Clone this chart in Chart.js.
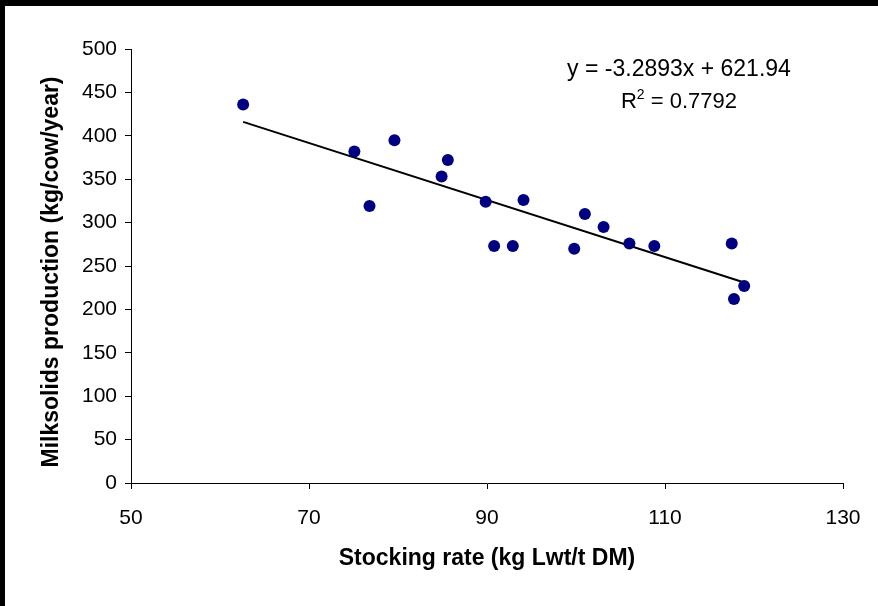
<!DOCTYPE html>
<html>
<head>
<meta charset="utf-8">
<script src="https://cdn.jsdelivr.net/npm/chart.js@4/dist/chart.umd.min.js"></script>
<style>
    body { margin:0; background:#fff; }
    #wrap { position:absolute; left:0; top:0; width:878px; height:606px; }
    .edge { position:absolute; background:#000; }
</style>
</head>
<body>
<div id="wrap"><canvas id="myChart" width="878" height="606"></canvas></div>
<div class="edge" style="left:0;top:0;width:878px;height:6px"></div>
<div class="edge" style="left:0;top:0;width:5px;height:606px"></div>
<script>
// values
const stockingRate = [62.6, 75.1, 76.8, 79.6, 84.9, 85.6, 89.85, 90.8, 92.9, 94.1, 99.8, 101.0, 103.1, 106.0, 108.8, 117.5, 117.75, 118.9];
const milksolids   = [436, 382, 319, 395, 353, 372, 324, 273, 273, 326, 270, 310, 295, 276, 273, 276, 212, 227];
const trendX = [62.6, 118.9];
const trendY = [416, 231];
const xTicks = [50, 70, 90, 110, 130];
const yTicks = [0, 50, 100, 150, 200, 250, 300, 350, 400, 450, 500];
const eqText = "y = -3.2893x + 621.94";
const r2Value = "0.7792";
const xTitle = "Stocking rate (kg Lwt/t DM)";
const yTitle = "Milksolids production (kg/cow/year)";

const pts = stockingRate.map(function(x,i){ return {x:x, y:milksolids[i]}; });
const trend = trendX.map(function(x,i){ return {x:x, y:trendY[i]}; });

const labelsPlugin = {
    id:'labels',
    afterDraw:function(chart){
        const c = chart.ctx;
        const a = chart.chartArea;
        c.save();
        c.fillStyle = '#000';
        c.textAlign = 'center';
        c.textBaseline = 'middle';
        c.font = '23px "Liberation Sans", Arial, sans-serif';
        c.fillText(eqText, 679, 70);
        // R squared with superscript
        const left = "R", rest = " = " + r2Value;
        c.font = '22px "Liberation Sans", Arial, sans-serif';
        const wL = c.measureText(left).width;
        const wR = c.measureText(rest).width;
        c.font = '14px "Liberation Sans", Arial, sans-serif';
        const wS = c.measureText("2").width;
        let sx = 679 - (wL + wS + wR) / 2;
        c.textAlign = 'left';
        c.font = '22px "Liberation Sans", Arial, sans-serif';
        c.fillText(left, sx, 102);
        c.font = '14px "Liberation Sans", Arial, sans-serif';
        c.fillText("2", sx + wL, 95);
        c.font = '22px "Liberation Sans", Arial, sans-serif';
        c.fillText(rest, sx + wL + wS, 102);

        c.textAlign = 'center';
        c.font = 'bold 23px "Liberation Sans", Arial, sans-serif';
        c.fillText(xTitle, (a.left + a.right) / 2, 559);
        c.translate(52, 272);
        c.rotate(-Math.PI / 2);
        c.fillText(yTitle, 0, 0);
        c.restore();
    }
};

var ctx = document.getElementById('myChart').getContext("2d");
window.myChart = new Chart(ctx,{
    type:'scatter',
    data:{
        datasets:[
            {
                data:pts,
                backgroundColor:'#000080',
                borderColor:'#000080',
                pointRadius:6,
                pointHoverRadius:6,
                borderWidth:0
            },
            {
                type:'line',
                data:trend,
                borderColor:'#000',
                borderWidth:2,
                pointRadius:0,
                fill:false
            }
        ]
    },
    options:{
        responsive:false,
        animation:false,
        layout:{ padding:{ left:0, top:49, right:35, bottom:0 } },
        plugins:{ legend:{display:false}, tooltip:{enabled:false} },
        scales:{
            x:{
                type:'linear',
                min:50, max:130,
                afterBuildTicks:function(s){ s.ticks = xTicks.map(function(v){ return {value:v}; }); },
                afterFit:function(s){ s.height = 123; },
                border:{ color:'#000', width:1 },
                grid:{ drawOnChartArea:false, tickLength:6, color:'#000' },
                ticks:{ color:'#000', padding:17, font:{ family:'"Liberation Sans", Arial', size:21 } }
            },
            y:{
                min:0, max:500,
                afterBuildTicks:function(s){ s.ticks = yTicks.map(function(v){ return {value:v}; }); },
                afterFit:function(s){ s.width = 131; },
                border:{ color:'#000', width:1 },
                grid:{ drawOnChartArea:false, tickLength:6, color:'#000' },
                ticks:{ color:'#000', padding:8, font:{ family:'"Liberation Sans", Arial', size:21 } }
            }
        }
    },
    plugins:[labelsPlugin]
});
</script>
</body>
</html>
